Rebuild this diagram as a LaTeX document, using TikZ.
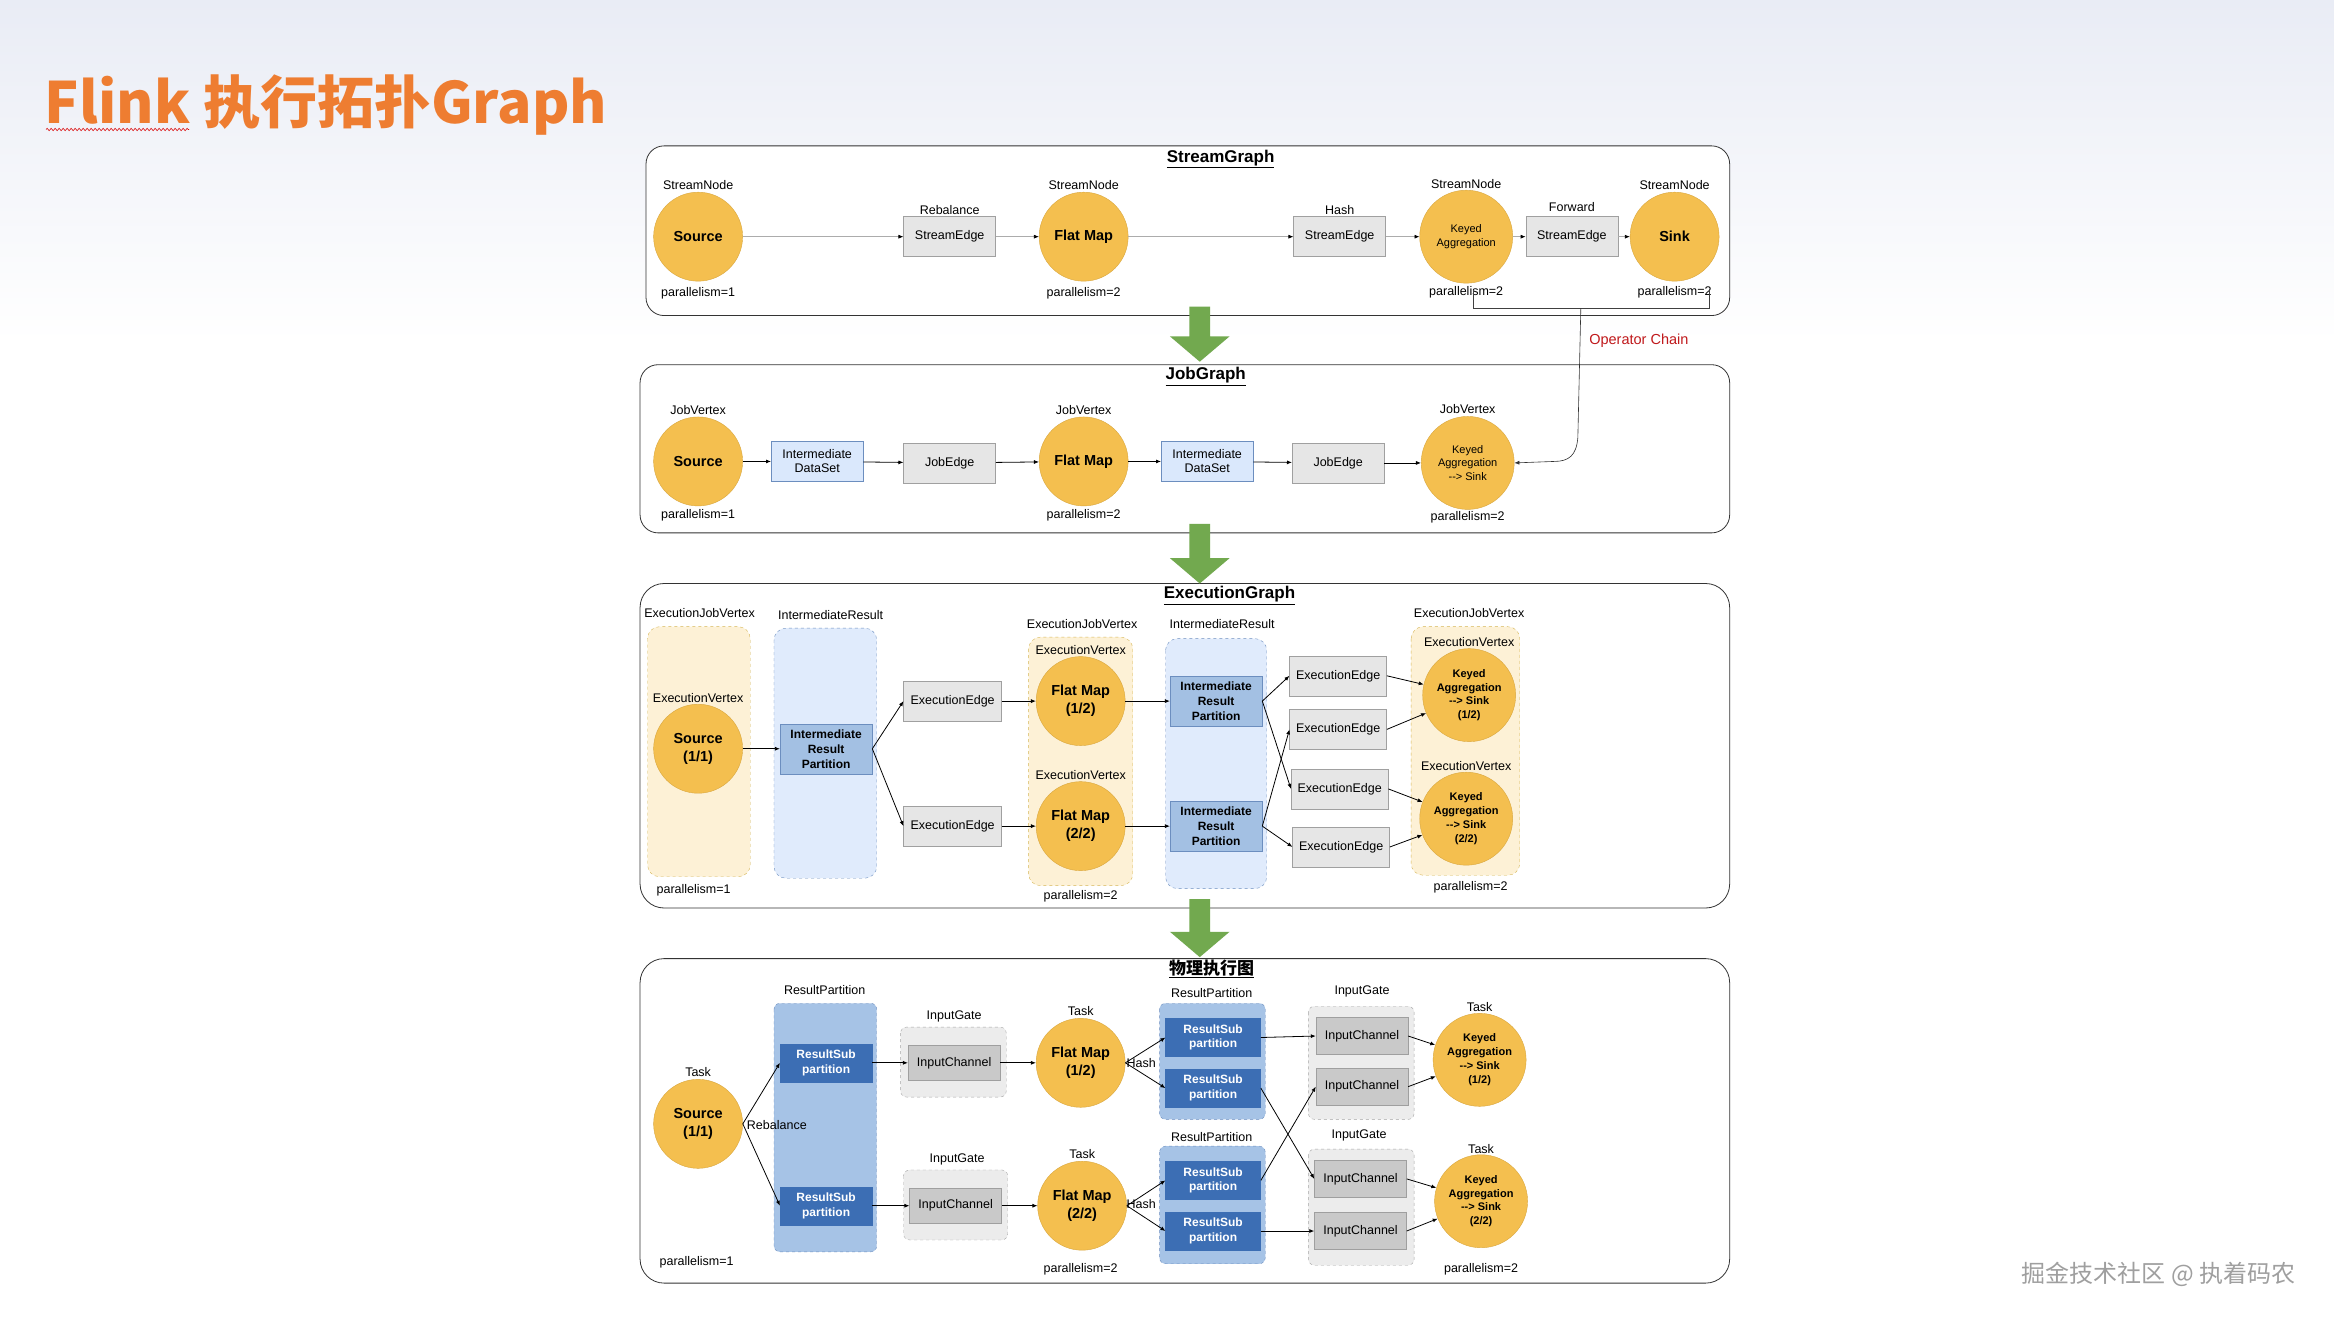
\documentclass[tikz,border=0pt]{standalone}
\usepackage{fontspec}
\setmainfont{Liberation Sans}
\newfontfamily\cjk{Noto Sans CJK SC}
\usepackage{tikz}
\usetikzlibrary{arrows.meta,positioning,decorations.pathmorphing}

\definecolor{opfill}{HTML}{F4BF4F}
\definecolor{opline}{HTML}{D9A73E}
\definecolor{edgefill}{HTML}{E6E6E6}
\definecolor{edgeline}{HTML}{A0A0A0}
\definecolor{dsfill}{HTML}{DAE8FC}
\definecolor{dsline}{HTML}{6C8EBF}
\definecolor{irpfill}{HTML}{A3C0E3}
\definecolor{ejvfill}{HTML}{FDF1D6}
\definecolor{ejvline}{HTML}{D6B656}
\definecolor{rpfill}{HTML}{A6C3E6}
\definecolor{rsfill}{HTML}{3C6EB4}
\definecolor{igfill}{HTML}{ECECEC}
\definecolor{icfill}{HTML}{C9C9C9}
\definecolor{titleorange}{HTML}{EE7D31}
\definecolor{chainred}{HTML}{C0191C}
\definecolor{flowgreen}{HTML}{72A94F}
\definecolor{slidetop}{HTML}{E9ECF5}

\newcommand{\lblfont}{\fontsize{12.5}{14}\selectfont}

\begin{document}
\begin{tikzpicture}[
  x=1.4885pt, y=-1.4885pt,
  panel/.style={draw=black!80, line width=0.8pt, fill=white, rounded corners=18pt},
  ptitle/.style={font=\fontsize{17}{20}\selectfont\bfseries, inner sep=1pt},
  lbl/.style={font=\lblfont, inner sep=1pt},
  op/.style={circle, draw=opline, fill=opfill, minimum size=89pt, inner sep=0pt,
             align=center, font=\fontsize{14.5}{18}\selectfont\bfseries},
  keyed/.style={op, minimum size=93pt, font=\fontsize{11}{13.5}\selectfont},
  xkeyed/.style={keyed, font=\fontsize{11}{13.8}\selectfont\bfseries},
  edgebox/.style={draw=edgeline, fill=edgefill, minimum width=92pt, minimum height=40pt,
                  inner sep=1pt, font=\lblfont, align=center},
  dsbox/.style={edgebox, draw=dsline, fill=dsfill},
  irpbox/.style={edgebox, draw=dsline, fill=irpfill, minimum height=50pt,
                 font=\fontsize{12}{15}\selectfont\bfseries},
  rsbox/.style={edgebox, draw=rsfill, fill=rsfill, text=white, minimum height=38pt,
                font=\fontsize{12}{14.5}\selectfont\bfseries},
  icbox/.style={edgebox, draw=gray!75, fill=icfill, minimum height=35pt},
  ejv/.style={draw=ejvline, dashed, fill=ejvfill, rounded corners=12pt},
  irgroup/.style={draw=dsline, dashed, fill=dsfill!85, rounded corners=12pt},
  rpgroup/.style={draw=dsline, dashed, fill=rpfill, rounded corners=6pt},
  iggroup/.style={draw=gray!70, dashed, fill=igfill, rounded corners=6pt},
  sarrow/.style={draw=gray!65, line width=0.7pt, -{Latex[length=5pt,width=4pt,color=black]}},
  arrow/.style={draw=black, line width=0.8pt, -{Latex[length=5pt,width=4pt]}}
]
  \useasboundingbox (0,0) rectangle (1568,887);
  \fill[white] (0,0) rectangle (1568,887);
  \shade[top color=slidetop, bottom color=white] (0,0) rectangle (1568,230);

  \node[anchor=base west, inner sep=0pt, text=titleorange,
        font={\cjk\bfseries\fontsize{57}{57}\selectfont}] (title) at (30,83) {Flink 执行拓扑Graph};
  \draw[red!85!black, line width=0.6pt, decorate,
        decoration={zigzag, segment length=4pt, amplitude=1.2pt}] (31,87) -- (127,87);

  % StreamGraph
  \draw[panel] (434,98) rectangle (1162,212);
  \node[ptitle] (sg) at (820,107) {\underline{StreamGraph}};
  \node[op] (ssrc) at (469,159) {Source};
  \node[edgebox] (sedge1) at (638,159) {StreamEdge};
  \node[op] (sfm) at (728,159) {Flat Map};
  \node[edgebox] (sedge2) at (900,159) {StreamEdge};
  \node[keyed] (ska) at (985,159) {Keyed\\Aggregation};
  \node[edgebox] (sedge3) at (1056,159) {StreamEdge};
  \node[op] (ssink) at (1125,159) {Sink};
  \node[lbl, above=1pt of ssrc] (ssrc-t) {StreamNode};
  \node[lbl, above=1pt of sfm] (sfm-t) {StreamNode};
  \node[lbl, above=0pt of ska] (ska-t) {StreamNode};
  \node[lbl, above=1pt of ssink] (ssink-t) {StreamNode};
  \node[lbl, above=1pt of sedge1] (sedge1-t) {Rebalance};
  \node[lbl, above=1pt of sedge2] (sedge2-t) {Hash};
  \node[lbl, above=4pt of sedge3] (sedge3-t) {Forward};
  \node[lbl, below=5pt of ssrc] (ssrc-p) {parallelism=1};
  \node[lbl, below=5pt of sfm] (sfm-p) {parallelism=2};
  \node[lbl, below=2pt of ska] (ska-p) {parallelism=2};
  \node[lbl, below=4pt of ssink] (ssink-p) {parallelism=2};
  \draw[sarrow] (ssrc) -- (sedge1);
  \draw[sarrow] (sedge1) -- (sfm);
  \draw[sarrow] (sfm) -- (sedge2);
  \draw[sarrow] (sedge2) -- (ska);
  \draw[sarrow] (ska) -- (sedge3);
  \draw[sarrow] (sedge3) -- (ssink);

  % JobGraph
  \draw[panel] (430,245) rectangle (1162,358);
  \node[ptitle] (jg) at (810,253) {\underline{JobGraph}};
  \node[op] (jsrc) at (469,310) {Source};
  \node[dsbox] (jds1) at (549,310) {Intermediate\\DataSet};
  \node[edgebox] (jedge1) at (638,311) {JobEdge};
  \node[op] (jfm) at (728,310) {Flat Map};
  \node[dsbox] (jds2) at (811,310) {Intermediate\\DataSet};
  \node[edgebox] (jedge2) at (899,311) {JobEdge};
  \node[keyed] (jka) at (986,311) {Keyed\\Aggregation\\-{}-{}> Sink};
  \node[lbl, above=1pt of jsrc] (jsrc-t) {JobVertex};
  \node[lbl, above=1pt of jfm] (jfm-t) {JobVertex};
  \node[lbl, above=1pt of jka] (jka-t) {JobVertex};
  \node[lbl, below=2pt of jsrc] (jsrc-p) {parallelism=1};
  \node[lbl, below=2pt of jfm] (jfm-p) {parallelism=2};
  \node[lbl, below=1pt of jka] (jka-p) {parallelism=2};
  \draw[arrow] (jsrc) -- (jds1);
  \draw[arrow] (jds1) -- (jedge1);
  \draw[arrow] (jedge1) -- (jfm);
  \draw[arrow] (jfm) -- (jds2);
  \draw[arrow] (jds2) -- (jedge2);
  \draw[arrow] (jedge2) -- (jka);

  % operator chain
  \draw[black!75, line width=0.6pt] (990,195) |- (1148,207) -- (1148,194);
  \coordinate (chain) at (1062,207);
  \draw[black!80, line width=0.6pt, -{Latex[length=5pt,width=4pt]}]
    (chain) -- (1060,294) .. controls (1059,306) and (1054,310) .. (1044,310) -- (jka.east);
  \node[lbl, text=chainred, font=\fontsize{14.5}{16}\selectfont] (chainlbl) at (1101,229) {Operator Chain};

  % ExecutionGraph
  \draw[panel, rounded corners=24pt] (430,392) rectangle (1162,610);
  \node[ptitle] (xg) at (826,400) {\underline{ExecutionGraph}};
  \draw[ejv] (435,421) rectangle (504,589);
  \draw[irgroup] (520,422) rectangle (589,590);
  \draw[ejv] (691,428) rectangle (761,595);
  \draw[irgroup] (783,429) rectangle (851,597);
  \draw[ejv] (948,421) rectangle (1021,588);
  \node[lbl] (xjv1) at (470,412) {ExecutionJobVertex};
  \node[lbl] (xir1) at (558,413) {IntermediateResult};
  \node[lbl] (xjv2) at (727,419) {ExecutionJobVertex};
  \node[lbl] (xir2) at (821,419) {IntermediateResult};
  \node[lbl] (xjv3) at (987,412) {ExecutionJobVertex};
  \node[op] (xsrc) at (469,503) {Source\\(1/1)};
  \node[irpbox] (xirp) at (555,503) {Intermediate\\Result\\Partition};
  \node[edgebox, minimum width=98pt] (xee1) at (640,471) {ExecutionEdge};
  \node[edgebox, minimum width=98pt] (xee2) at (640,555) {ExecutionEdge};
  \node[op] (xfm1) at (726,471) {Flat Map\\(1/2)};
  \node[op] (xfm2) at (726,555) {Flat Map\\(2/2)};
  \node[irpbox] (xirp1) at (817,471) {Intermediate\\Result\\Partition};
  \node[irpbox] (xirp2) at (817,555) {Intermediate\\Result\\Partition};
  \node[edgebox, minimum width=97pt] (xee3) at (899,454) {ExecutionEdge};
  \node[edgebox, minimum width=97pt] (xee4) at (899,490) {ExecutionEdge};
  \node[edgebox, minimum width=97pt] (xee5) at (900,530) {ExecutionEdge};
  \node[edgebox, minimum width=97pt] (xee6) at (901,569) {ExecutionEdge};
  \node[xkeyed] (xka1) at (987,467) {Keyed\\Aggregation\\-{}-{}> Sink\\(1/2)};
  \node[xkeyed] (xka2) at (985,550) {Keyed\\Aggregation\\-{}-{}> Sink\\(2/2)};
  \node[lbl, above=0.5pt of xsrc] (xsrc-t) {ExecutionVertex};
  \node[lbl, above=0.5pt of xfm1] (xfm1-t) {ExecutionVertex};
  \node[lbl, above=0.5pt of xfm2] (xfm2-t) {ExecutionVertex};
  \node[lbl, above=0.5pt of xka1] (xka1-t) {ExecutionVertex};
  \node[lbl, above=0.5pt of xka2] (xka2-t) {ExecutionVertex};
  \node[lbl] (xsrc-p) at (466,598) {parallelism=1};
  \node[lbl] (xfm-p) at (726,602) {parallelism=2};
  \node[lbl] (xka-p) at (988,596) {parallelism=2};
  \draw[arrow] (xsrc) -- (xirp);
  \draw[arrow] (xirp.east) -- (xee1.west);
  \draw[arrow] (xirp.east) -- (xee2.west);
  \draw[arrow] (xee1) -- (xfm1);
  \draw[arrow] (xee2) -- (xfm2);
  \draw[arrow] (xfm1) -- (xirp1);
  \draw[arrow] (xfm2) -- (xirp2);
  \draw[arrow] (xirp1.east) -- (xee3.west);
  \draw[arrow] (xirp1.east) -- (xee5.west);
  \draw[arrow] (xirp2.east) -- (xee4.west);
  \draw[arrow] (xirp2.east) -- (xee6.west);
  \draw[arrow] (xee3.east) -- (xka1);
  \draw[arrow] (xee4.east) -- (xka1);
  \draw[arrow] (xee5.east) -- (xka2);
  \draw[arrow] (xee6.east) -- (xka2);

  % physical graph
  \draw[panel, rounded corners=24pt] (430,644) rectangle (1162,862);
  \node[ptitle, font={\cjk\bfseries\fontsize{17}{20}\selectfont}] (pg) at (814,651) {\underline{物理执行图}};
  \draw[rpgroup] (520,674) rectangle (589,841);
  \draw[iggroup] (605,690) rectangle (676,737);
  \draw[iggroup] (607,786) rectangle (677,833);
  \draw[rpgroup] (779,674) rectangle (850,752);
  \draw[rpgroup] (779,770) rectangle (850,849);
  \draw[iggroup] (879,676) rectangle (950,752);
  \draw[iggroup] (879,772) rectangle (950,850);
  \node[lbl] (prp1) at (554,665) {ResultPartition};
  \node[lbl] (pig1) at (641,683) {InputGate};
  \node[lbl] (pig2) at (643,779) {InputGate};
  \node[lbl] (prp2) at (814,667) {ResultPartition};
  \node[lbl] (prp3) at (814,764) {ResultPartition};
  \node[lbl] (pig3) at (915,666) {InputGate};
  \node[lbl] (pig4) at (913,763) {InputGate};
  \node[op] (psrc) at (469,755) {Source\\(1/1)};
  \node[rsbox] (prs1) at (555,714) {ResultSub\\partition};
  \node[rsbox] (prs2) at (555,810) {ResultSub\\partition};
  \node[icbox] (pic1) at (641,714) {InputChannel};
  \node[icbox] (pic2) at (642,810) {InputChannel};
  \node[op] (pfm1) at (726,714) {Flat Map\\(1/2)};
  \node[op] (pfm2) at (727,810) {Flat Map\\(2/2)};
  \node[rsbox, minimum width=95pt] (prs3) at (815,697) {ResultSub\\partition};
  \node[rsbox, minimum width=95pt] (prs4) at (815,731) {ResultSub\\partition};
  \node[rsbox, minimum width=95pt] (prs5) at (815,793) {ResultSub\\partition};
  \node[rsbox, minimum width=95pt] (prs6) at (815,827) {ResultSub\\partition};
  \node[icbox, minimum height=37pt] (pic3) at (915,696) {InputChannel};
  \node[icbox, minimum height=37pt] (pic4) at (915,730) {InputChannel};
  \node[icbox, minimum height=37pt] (pic5) at (914,792) {InputChannel};
  \node[icbox, minimum height=37pt] (pic6) at (914,827) {InputChannel};
  \node[xkeyed] (pka1) at (994,712) {Keyed\\Aggregation\\-{}-{}> Sink\\(1/2)};
  \node[xkeyed] (pka2) at (995,807) {Keyed\\Aggregation\\-{}-{}> Sink\\(2/2)};
  \node[lbl, above=1pt of psrc] (psrc-t) {Task};
  \node[lbl, above=1pt of pfm1] (pfm1-t) {Task};
  \node[lbl, above=1pt of pfm2] (pfm2-t) {Task};
  \node[lbl, above=0pt of pka1] (pka1-t) {Task};
  \node[lbl, above=0pt of pka2] (pka2-t) {Task};
  \node[lbl] (psrc-p) at (468,848) {parallelism=1};
  \node[lbl] (pfm-p) at (726,853) {parallelism=2};
  \node[lbl] (pka-p) at (995,853) {parallelism=2};
  \node[lbl, anchor=west] (rebal) at (501,756) {Rebalance};
  \node[lbl, anchor=west] (hash1) at (756,714) {Hash};
  \node[lbl, anchor=west] (hash2) at (756,809) {Hash};
  \draw[arrow] (psrc.east) -- (prs1.west);
  \draw[arrow] (psrc.east) -- (prs2.west);
  \draw[arrow] (prs1) -- (pic1);
  \draw[arrow] (prs2) -- (pic2);
  \draw[arrow] (pic1) -- (pfm1);
  \draw[arrow] (pic2) -- (pfm2);
  \draw[arrow] (pfm1.east) -- (prs3.west);
  \draw[arrow] (pfm1.east) -- (prs4.west);
  \draw[arrow] (pfm2.east) -- (prs5.west);
  \draw[arrow] (pfm2.east) -- (prs6.west);
  \draw[arrow] (prs3.east) -- (pic3.west);
  \draw[arrow] (prs4.east) -- (pic5.west);
  \draw[arrow] (prs5.east) -- (pic4.west);
  \draw[arrow] (prs6.east) -- (pic6.west);
  \draw[arrow] (pic3.east) -- (pka1);
  \draw[arrow] (pic4.east) -- (pka1);
  \draw[arrow] (pic5.east) -- (pka2);
  \draw[arrow] (pic6.east) -- (pka2);

  % stage arrows
  \foreach \ya/\yb in {206/243, 352/392, 604/643}
    \fill[flowgreen] (799,\ya) -- (813,\ya) -- (813,\yb-17) -- (826,\yb-17)
      -- (806,\yb) -- (786,\yb-17) -- (799,\yb-17) -- cycle;

  \node[text=gray!75, font={\cjk\fontsize{24}{26}\selectfont}] (wm) at (1450,856) {掘金技术社区 @ 执着码农};
\end{tikzpicture}
\end{document}
